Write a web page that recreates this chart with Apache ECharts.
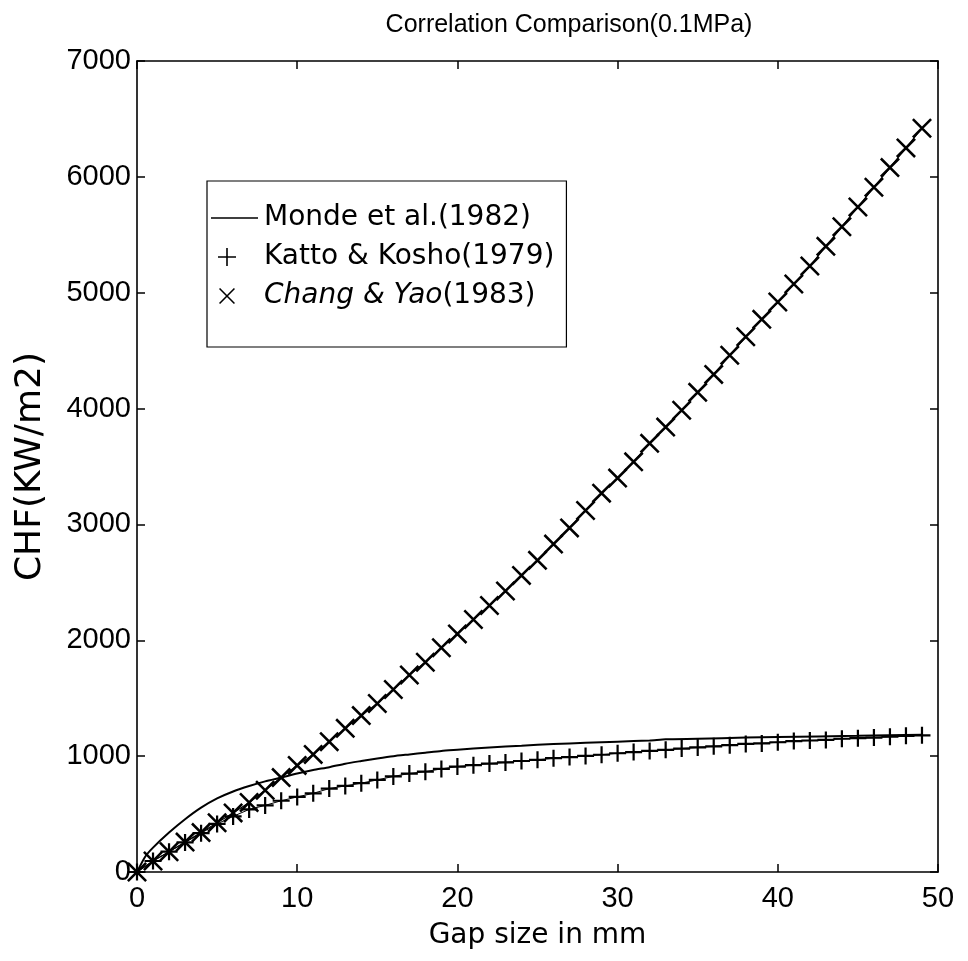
<!DOCTYPE html>
<html>
<head>
<meta charset="utf-8">
<script src="https://cdn.jsdelivr.net/npm/echarts@6/dist/echarts.min.js"></script>
<style>html,body{margin:0;padding:0;background:#fff;}#c{width:968px;height:961px;}</style>
</head>
<body>
<div id="c"></div>
<script>
// ---- data ----
const gapSize = [0,1,2,3,4,5,6,7,8,9,10,11,12,13,14,15,16,17,18,19,20,21,22,23,24,25,26,27,28,29,30,31,32,33,34,35,36,37,38,39,40,41,42,43,44,45,46,47,48,49];
const changYao = [0,95,175,258,340,425,510,600,705,815,920,1015,1125,1240,1350,1455,1575,1700,1810,1935,2055,2180,2300,2425,2560,2690,2830,2970,3120,3270,3400,3540,3700,3840,3985,4140,4295,4460,4620,4770,4920,5075,5230,5400,5570,5740,5910,6080,6250,6420];
const kattoKosho = [0,95,175,255,335,415,480,540,575,615,648,679,720,743,767,795,825,850,866,890,910,922,936,946,958,968,982,992,1002,1012,1025,1035,1045,1055,1065,1075,1085,1095,1105,1110,1120,1130,1135,1140,1150,1155,1160,1168,1175,1180];
const mondeGap = [0,0.5,1,2,3,4,5,6,7,8,9,10,11,12,13,14,15,16,17,18,19,20,22,24,26,28,30,32,33,35,38,40,45,49];
const mondeCHF = [0,130,210,340,455,555,635,695,742,782,815,850,880,905,935,958,980,1000,1015,1030,1045,1055,1075,1090,1105,1115,1125,1135,1145,1150,1160,1165,1175,1185];
const xTicks = [0,10,20,30,40,50];
const yTicks = [0,1000,2000,3000,4000,5000,6000,7000];
const seriesNames = ['Monde et al.(1982)','Katto & Kosho(1979)','Chang & Yao(1983)'];

const FONT = '"Liberation Sans", Arial, sans-serif';
const WIDE = '"DejaVu Sans", sans-serif';
const plusPath = 'path://M0,4.35H10V5.65H0Z M4.35,0H5.65V10H4.35Z';
const crossPath = 'path://M0,0.9L0.9,0L10,9.1L9.1,10Z M9.1,0L10,0.9L0.9,10L0,9.1Z';
// legend icons (box 50x26 with invisible corner anchors)
const anchors = 'M0,0h0.01v0.01h-0.01Z M49.99,25.99h0.01v0.01h-0.01Z ';
const legLine = 'path://' + anchors + 'M2,12.3H49V13.7H2Z';
const legPlus = 'path://' + anchors + 'M9,12.2H27V13.8H9Z M17.2,4H18.8V22H17.2Z';
const legCross = 'path://' + anchors + 'M10,6.1L11.1,5L26,19.9L24.9,21Z M24.9,5L26,6.1L11.1,21L10,19.9Z';

const pair = (xs, ys) => xs.map((x, i) => [x, ys[i]]);

const chart = echarts.init(document.getElementById('c'), null, {renderer: 'canvas'});
const axisCommon = {
  axisLine: {show: true, onZero: false, lineStyle: {color: '#000', width: 1.6}},
  axisTick: {show: true, inside: true, length: 8, lineStyle: {color: '#000', width: 1.5}},
  splitLine: {show: false}
};
chart.setOption({
  backgroundColor: '#fff',
  animation: false,
  title: {
    text: 'Correlation Comparison(0.1MPa)',
    left: 564, top: 8, textAlign: 'center',
    textStyle: {fontFamily: FONT, fontSize: 25, fontWeight: 'normal', color: '#000'}
  },
  grid: {left: 137, right: 30, top: 61, bottom: 89, containLabel: false},
  legend: {
    orient: 'vertical',
    left: 207, top: 181,
    backgroundColor: '#fff',
    borderColor: '#000', borderWidth: 1.2,
    padding: [23, 12, 37, 2],
    itemWidth: 50, itemHeight: 26, itemGap: 11,
    selectedMode: false,
    textStyle: {
      fontFamily: WIDE, fontSize: 28, color: '#000', lineHeight: 26,
      rich: {it: {fontFamily: WIDE, fontSize: 28, fontStyle: 'italic', color: '#000', lineHeight: 26},
             n: {fontFamily: WIDE, fontSize: 28, color: '#000', lineHeight: 26}}
    },
    formatter: function (name) {
      if (name === seriesNames[2]) return '{it|Chang & Yao}{n|(1983)}';
      return name;
    },
    data: [
      {name: seriesNames[0], icon: legLine, itemStyle: {color: '#000'}},
      {name: seriesNames[1], icon: legPlus, itemStyle: {color: '#000'}},
      {name: seriesNames[2], icon: legCross, itemStyle: {color: '#000'}}
    ]
  },
  xAxis: [
    Object.assign({
      type: 'value', min: xTicks[0], max: xTicks[xTicks.length - 1], interval: 10,
      position: 'bottom',
      name: 'Gap size in mm', nameLocation: 'middle', nameGap: 50,
      nameTextStyle: {fontFamily: WIDE, fontSize: 28, color: '#000'},
      axisLabel: {fontFamily: FONT, fontSize: 29, color: '#000', margin: 12}
    }, axisCommon),
    Object.assign({
      type: 'value', min: xTicks[0], max: xTicks[xTicks.length - 1], interval: 10,
      position: 'top', axisLabel: {show: false}
    }, axisCommon)
  ],
  yAxis: [
    Object.assign({
      type: 'value', min: yTicks[0], max: yTicks[yTicks.length - 1], interval: 1000,
      position: 'left',
      name: 'CHF(KW/m2)', nameLocation: 'middle', nameGap: 88,
      nameTextStyle: {fontFamily: WIDE, fontSize: 36, color: '#000'},
      axisLabel: {fontFamily: FONT, fontSize: 29, color: '#000', margin: 6,
                  formatter: function (v) { return String(v); }}
    }, axisCommon),
    Object.assign({
      type: 'value', min: yTicks[0], max: yTicks[yTicks.length - 1], interval: 1000,
      position: 'right', axisLabel: {show: false}
    }, axisCommon)
  ],
  series: [
    {
      name: seriesNames[0], type: 'line', data: pair(mondeGap, mondeCHF),
      showSymbol: false, smooth: 0.2,
      lineStyle: {color: '#000', width: 2}, itemStyle: {color: '#000'}, z: 3
    },
    {
      name: seriesNames[1], type: 'line', data: pair(gapSize, kattoKosho),
      symbol: plusPath, symbolSize: 17, showAllSymbol: true,
      lineStyle: {color: '#000', width: 1}, itemStyle: {color: '#000'}, z: 2
    },
    {
      name: seriesNames[2], type: 'line', data: pair(gapSize, changYao),
      symbol: crossPath, symbolSize: 20, showAllSymbol: true,
      lineStyle: {color: '#000', width: 1.2}, itemStyle: {color: '#000'}, z: 2
    }
  ]
});
</script>
</body>
</html>
